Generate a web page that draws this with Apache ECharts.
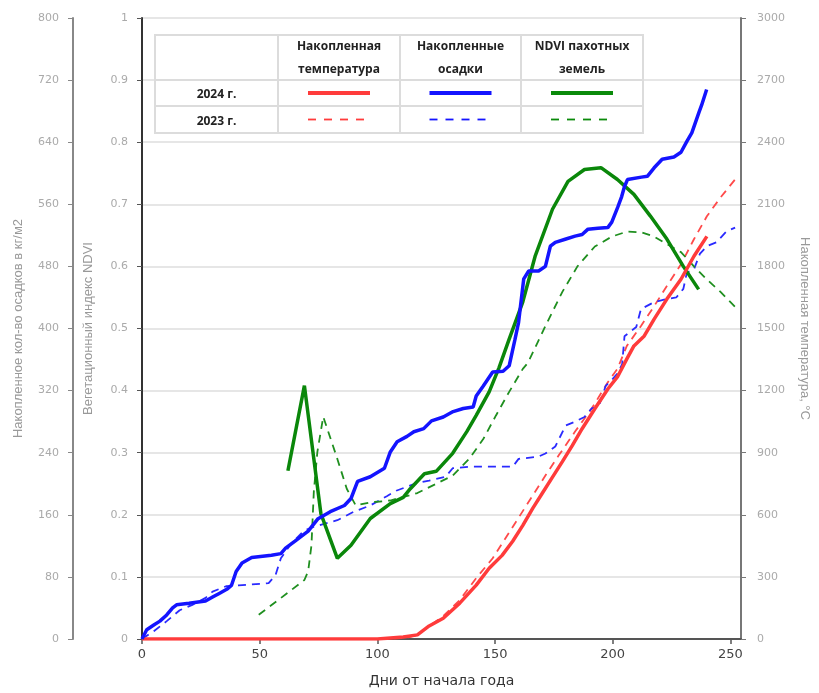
<!DOCTYPE html>
<html>
<head>
<meta charset="utf-8">
<script src="https://cdn.jsdelivr.net/npm/echarts@6/dist/echarts.min.js"></script>
<style>html,body{margin:0;padding:0;background:#fff}#c{width:819px;height:693px}</style>
</head>
<body>
<div id="c"></div>
<script>
// ---- data (day of year, value) ----
const precip2024 = [[0,0],[2,12],[5,18],[7.6,23],[10.5,31],[13,40],[14.7,44],[20,46],[27,49],[30,54],[33,59],[36,64],[38,69],[40,87],[42.5,98],[46.6,105],[55,108],[59,110],[61,117],[65,126],[70.6,139],[74.8,155],[80,164],[86,172],[88.8,181],[91.6,203],[97,209],[103,220],[105.5,241],[108.4,254],[112.6,261],[115.5,267],[119.7,271],[123,281],[128,286],[132.2,293],[136.5,297],[140.7,299],[142,313],[145,326],[149,344],[153.4,345],[156,352],[158.4,385],[160,408],[162.2,464],[164.3,474],[168.5,474],[171.4,480],[173.5,506],[175.6,511],[179.8,515],[184,519],[187,521],[189.5,528],[193.7,529],[197.9,530],[199.6,537],[202.1,556],[203.8,570],[205,583],[206.3,592],[212.2,595],[214.7,596],[217.6,607],[221,618],[226,621],[229,627],[231.5,641],[233.6,652],[236.6,678],[237.8,688],[239.9,708]];
const precip2023 = [[0,0],[5,10],[10.5,23],[16,37],[21.4,44],[27,53],[30,61],[35.7,68],[41,69],[53.8,72],[56.7,82],[59,104],[63.4,123],[69,140],[73.5,145],[83,153],[90,164],[97,172],[104,184],[108,191],[117,201],[122,204],[129,209],[132,220],[139,222],[147.5,222],[157.5,222],[160,232],[168.5,235],[171.4,239],[175.6,248],[180,275],[184,280],[188,286],[191,297],[194,299],[197,326],[200,335],[202,342],[204,354],[205,390],[210,402],[212,425],[217.6,434],[223,438],[227,440],[230,451],[231.5,472],[234.5,476],[237,496],[240,506],[244,511],[248.3,525],[252,530]];
const temp2024 = [[0,0],[50,0],[100,0],[111,10],[117,20],[122,63],[128,100],[135,173],[142,260],[147.5,342],[153,404],[157.5,472],[161.8,549],[166,631],[170,703],[174,775],[178.6,857],[182.8,934],[187,1016],[192.4,1112],[198,1209],[202,1266],[206,1353],[209,1416],[213.4,1464],[217.6,1545],[223,1642],[229,1738],[234.5,1849],[240,1945]];
const temp2023 = [[0,0],[100,0],[112,5],[117,20],[121,53],[128,111],[135,188],[142,294],[149,390],[156,515],[160,586],[166,693],[171.4,790],[177,886],[184,1002],[191,1112],[198,1242],[202,1305],[206,1416],[212,1512],[217.6,1608],[223,1705],[229,1810],[234.5,1931],[240,2042],[245.8,2133],[253,2234]];
const ndvi2024 = [[62,0.271],[69,0.408],[76,0.202],[83,0.130],[88.8,0.151],[97,0.194],[105.5,0.218],[111,0.228],[114,0.242],[117,0.254],[120,0.266],[125,0.270],[132,0.299],[138,0.334],[142,0.360],[147.5,0.398],[151.7,0.437],[156,0.483],[161.8,0.543],[167,0.616],[174.4,0.692],[181,0.737],[188,0.756],[195,0.759],[202,0.740],[209,0.716],[216,0.681],[223,0.644],[230,0.600],[236.5,0.563]];
const ndvi2023 = [[49.6,0.039],[59,0.066],[69,0.095],[70.6,0.109],[72,0.151],[73,0.237],[74.5,0.301],[77,0.358],[83,0.290],[87,0.242],[90.8,0.215],[97,0.220],[105.5,0.223],[117,0.235],[125,0.250],[132,0.263],[139,0.290],[145,0.322],[150.4,0.360],[156,0.398],[161.8,0.435],[164,0.445],[171.4,0.504],[178.6,0.559],[185,0.600],[192.4,0.632],[199.6,0.648],[206,0.656],[212,0.655],[217.6,0.648],[223,0.636],[229,0.623],[234.5,0.600],[240,0.579],[245.8,0.559],[253,0.531]];

const legendHeaders = ['Накопленная\nтемпература', 'Накопленные\nосадки', 'NDVI пахотных\nземель'];
const legendRows = ['2024 г.', '2023 г.'];
const legendColors = ['#ff3b3b', '#1414ff', '#0a8a0a'];

const xName = 'Дни от начала года';
const precipName = 'Накопленное кол-во осадков в кг/м2';
const ndviName = 'Вегетационный индекс NDVI';
const tempName = 'Накопленная температура, °C';

// ---- legend table (graphic) ----
const T = {x0:155, x1:643, cols:[155,278,400,521,643], rows:[35,80,106,133]};
const g = [];
g.push({type:'rect', shape:{x:T.x0, y:T.rows[0], width:T.x1-T.x0, height:T.rows[3]-T.rows[0]}, style:{fill:'#fff', stroke:'#dcdcdc', lineWidth:2}, z:50});
T.cols.slice(1,-1).forEach(cx=>g.push({type:'line', shape:{x1:cx,y1:T.rows[0],x2:cx,y2:T.rows[3]}, style:{stroke:'#dcdcdc', lineWidth:2}, z:51}));
T.rows.slice(1,-1).forEach(ry=>g.push({type:'line', shape:{x1:T.x0,y1:ry,x2:T.x1,y2:ry}, style:{stroke:'#dcdcdc', lineWidth:2}, z:51}));
legendHeaders.forEach((h,i)=>{
  const cx=(T.cols[i+1]+T.cols[i+2])/2;
  g.push({type:'text', x:cx, y:(T.rows[0]+T.rows[1])/2+1, style:{text:h, fill:'#222', font:'bold 12px "Open Sans", "DejaVu Sans", sans-serif', align:'center', verticalAlign:'middle', lineHeight:23}, z:52});
  legendRows.forEach((r,j)=>{
    const cy=(T.rows[j+1]+T.rows[j+2])/2;
    g.push({type:'line', shape:{x1:cx-31,y1:cy,x2:cx+31,y2:cy}, style:{stroke:legendColors[i], lineWidth:j===0?4:1.8, lineDash:j===0?null:[8,8]}, z:52});
  });
});
legendRows.forEach((r,j)=>{
  g.push({type:'text', x:(T.cols[0]+T.cols[1])/2, y:(T.rows[j+1]+T.rows[j+2])/2+2, style:{text:r, fill:'#222', font:'bold 12px "Open Sans", "DejaVu Sans", sans-serif', align:'center', verticalAlign:'middle'}, z:52});
});

function ser(data, yIdx, color, solid){
  return {type:'line', data:data, yAxisIndex:yIdx, showSymbol:false, symbol:'none', smooth:false, z: solid?4:3,
    lineStyle:{color:color, width: solid?3.5:1.8, type: solid?'solid':[8,6]}, itemStyle:{color:color}};
}

const tickLbl = {color:'#aaa', fontSize:11, fontFamily:'DejaVu Sans'};
const nameSty = {color:'#999', fontSize:13, fontFamily:'"Liberation Sans Narrow", "Liberation Sans", sans-serif'};

const chart = echarts.init(document.getElementById('c'), null, {renderer:'canvas'});
chart.setOption({
  animation:false,
  backgroundColor:'#fff',
  grid:{left:142, right:72, top:18, bottom:52, containLabel:false},
  xAxis:{type:'value', min:0, max:254.5, interval:50,
    name:xName, nameLocation:'middle', nameGap:35, nameTextStyle:{color:'#333', fontSize:14, fontFamily:'DejaVu Sans'},
    axisLine:{show:true, lineStyle:{color:'#555', width:2}},
    axisTick:{show:true, length:5, lineStyle:{color:'#555', width:1.5}},
    axisLabel:{color:'#444', fontSize:13, fontFamily:'DejaVu Sans', margin:9, showMaxLabel:false,
      formatter:v=> (v%50===0? String(v):'')},
    splitLine:{show:false}},
  yAxis:[
    {type:'value', position:'left', min:0, max:1, interval:0.1,
      name:ndviName, nameLocation:'middle', nameGap:47, nameTextStyle:nameSty,
      axisLine:{show:true, lineStyle:{color:'#333', width:2}},
      axisTick:{show:true, length:5, lineStyle:{color:'#555'}},
      axisLabel:Object.assign({margin:14, formatter:v=>String(Math.round(v*10)/10)}, tickLbl),
      splitLine:{show:true, lineStyle:{color:'#e6e6e6', width:2}}},
    {type:'value', position:'left', offset:69, min:0, max:800, interval:80,
      name:precipName, nameLocation:'middle', nameGap:48, nameTextStyle:nameSty,
      axisLine:{show:true, lineStyle:{color:'#888', width:2}},
      axisTick:{show:true, length:5, lineStyle:{color:'#888'}},
      axisLabel:Object.assign({margin:14, formatter:v=>String(v)}, tickLbl),
      splitLine:{show:false}},
    {type:'value', position:'right', min:0, max:3000, interval:300,
      name:tempName, nameLocation:'middle', nameGap:57, nameRotate:-90, nameTextStyle:nameSty,
      axisLine:{show:true, lineStyle:{color:'#777', width:2}},
      axisTick:{show:true, length:5, lineStyle:{color:'#777'}},
      axisLabel:Object.assign({margin:16, formatter:v=>String(v)}, tickLbl),
      splitLine:{show:false}}
  ],
  series:[
    ser(temp2023, 2, '#ff4a4a', false),
    ser(precip2023, 1, '#2a2aff', false),
    ser(ndvi2023, 0, '#1f8f1f', false),
    ser(ndvi2024, 0, '#0a870a', true),
    ser(temp2024, 2, '#ff3b3b', true),
    ser(precip2024, 1, '#1414ff', true)
  ],
  graphic:g
});
</script>
</body>
</html>
